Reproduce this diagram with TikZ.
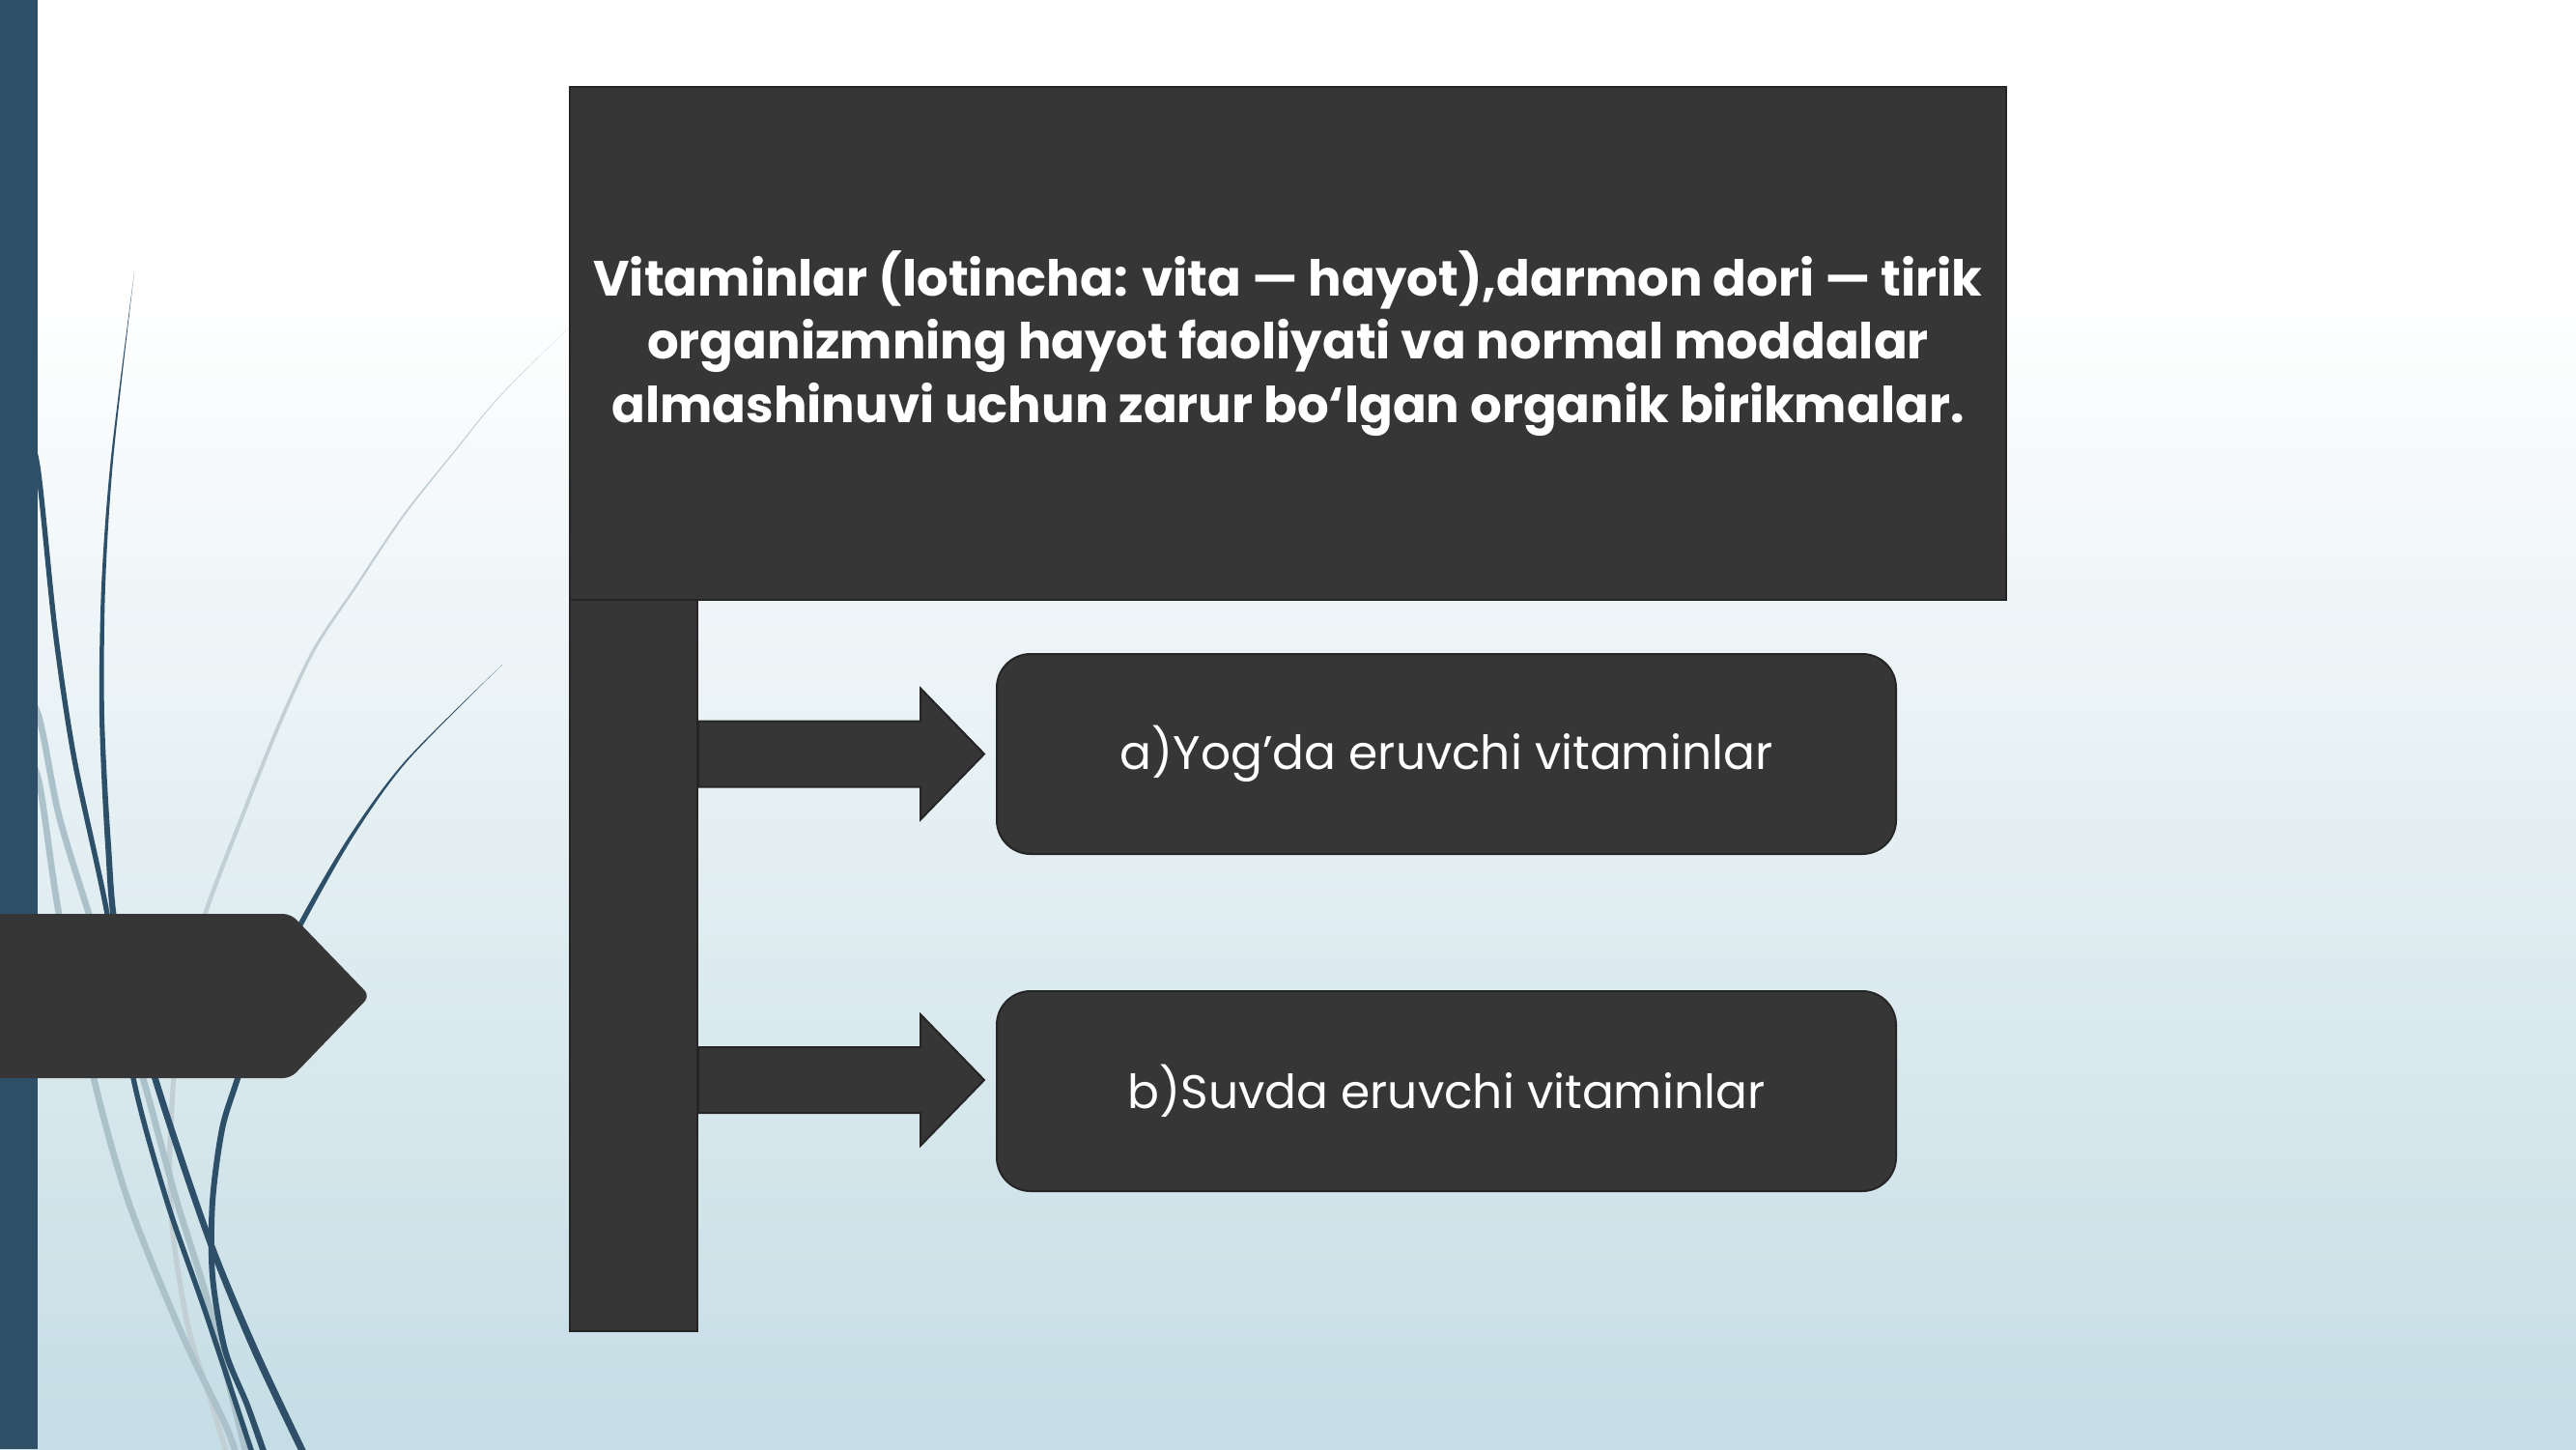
\documentclass[tikz,border=0pt]{standalone}
\usepackage{fontspec}
\setmainfont{Poppins}
\newlength{\du}
\setlength{\du}{15\unitlength}

\begin{document}
\begin{tikzpicture}[even odd rule,
  darkfill/.style={fill=boxcolor, draw=boxline, line width=0.1\du},
  titlebox/.style={darkfill, rectangle, inner sep=0pt, minimum width=74.35\du, minimum height=26.55\du,
    text=white, align=center, font=\bfseries\fontsize{38.5}{49}\selectfont},
  itembox/.style={darkfill, rectangle, rounded corners=1.75\du, inner sep=0pt, minimum width=46.55\du,
    minimum height=10.35\du, text=white, font=\fontsize{36.5}{42}\selectfont},
  bluecurve/.style={draw=curveblue, line width=#1, line cap=round},
  greycurve/.style={draw=curvegrey, line width=#1, line cap=round}]
\pgftransformxscale{1.000000}
\pgftransformyscale{-1.000000}
\definecolor{boxcolor}{rgb}{0.211765, 0.211765, 0.211765}
\definecolor{boxline}{rgb}{0.145098, 0.145098, 0.145098}
\definecolor{curveblue}{rgb}{0.180392, 0.309804, 0.407843}
\definecolor{curvegrey}{rgb}{0.674510, 0.760784, 0.792157}
\definecolor{paleline}{rgb}{0.760784, 0.815686, 0.835294}
\definecolor{bgblue}{rgb}{0.772549, 0.866667, 0.898039}
\useasboundingbox (0\du,0\du) rectangle (133.350000\du,75.000000\du);
% background
\fill[white] (0\du,0\du) rectangle (133.350000\du,15.000000\du);
\shade[top color=white, bottom color=bgblue] (0\du,14.900000\du) rectangle (133.350000\du,75.000000\du);
% curves
\fill[paleline] plot[smooth] coordinates {(29.600000\du,16.800000\du) (25.850000\du,20.500000\du) (23.500000\du,23.350000\du) (20.850000\du,26.650000\du) (18.350000\du,30.350000\du) (16.150000\du,33.650000\du) (14.350000\du,37.500000\du) (12.450000\du,42.200000\du) (10.500000\du,47.300000\du) (9.200000\du,52.000000\du) (8.850000\du,55.900000\du) (8.650000\du,60.300000\du) (8.850000\du,64.150000\du) (9.650000\du,68.900000\du) (10.850000\du,72.750000\du) (11.650000\du,75.500000\du)}
  -- plot[smooth] coordinates {(11.950000\du,75.500000\du) (11.120000\du,72.700000\du) (9.920000\du,68.850000\du) (9.120000\du,64.150000\du) (8.920000\du,60.300000\du) (9.110000\du,55.900000\du) (9.450000\du,52.000000\du) (10.740000\du,47.300000\du) (12.670000\du,42.200000\du) (14.550000\du,37.500000\du) (16.330000\du,33.650000\du) (18.500000\du,30.350000\du) (20.970000\du,26.650000\du) (23.580000\du,23.350000\du) (25.900000\du,20.500000\du) (29.600000\du,16.800000\du)} -- cycle;
\draw[greycurve=5pt] plot[smooth] coordinates {(1.000000\du,38.500000\du) (2.000000\du,40.400000\du) (3.050000\du,47.300000\du) (4.850000\du,55.800000\du) (6.650000\du,62.200000\du) (9.350000\du,68.900000\du) (11.650000\du,73.700000\du) (12.300000\du,75.500000\du)};
\draw[greycurve=5pt] plot[smooth] coordinates {(1.000000\du,35.500000\du) (2.000000\du,37.050000\du) (3.050000\du,42.200000\du) (4.600000\du,47.300000\du) (6.400000\du,53.000000\du) (7.400000\du,55.800000\du) (9.100000\du,62.000000\du) (10.800000\du,67.500000\du) (12.800000\du,75.500000\du)};
\draw[bluecurve=4pt] plot[smooth] coordinates {(1.200000\du,21.800000\du) (1.950000\du,24.150000\du) (2.850000\du,32.600000\du) (3.850000\du,39.300000\du) (5.550000\du,47.300000\du) (6.900000\du,55.800000\du) (8.650000\du,62.200000\du) (10.650000\du,67.950000\du) (13.150000\du,75.500000\du)};
\fill[curveblue] plot[smooth] coordinates {(6.950000\du,14.100000\du) (5.750000\du,23.650000\du) (5.250000\du,30.350000\du) (5.150000\du,37.050000\du) (5.450000\du,43.750000\du) (5.900000\du,48.500000\du) (7.850000\du,55.800000\du) (10.650000\du,64.150000\du) (13.000000\du,69.900000\du) (15.650000\du,75.500000\du)}
  -- plot[smooth] coordinates {(16.050000\du,75.500000\du) (13.400000\du,69.900000\du) (11.000000\du,64.150000\du) (8.200000\du,55.800000\du) (6.220000\du,48.500000\du) (5.750000\du,43.750000\du) (5.400000\du,37.050000\du) (5.450000\du,30.350000\du) (5.870000\du,23.650000\du) (6.950000\du,14.100000\du)} -- cycle;
\fill[curveblue] plot[smooth] coordinates {(26.000000\du,34.400000\du) (21.050000\du,39.300000\du) (18.200000\du,43.100000\du) (15.700000\du,47.300000\du) (13.500000\du,51.600000\du) (12.150000\du,55.800000\du) (11.350000\du,58.400000\du) (10.850000\du,62.200000\du) (10.850000\du,66.050000\du) (11.500000\du,69.900000\du) (12.650000\du,72.750000\du) (13.600000\du,75.500000\du)}
  -- plot[smooth] coordinates {(13.950000\du,75.500000\du) (12.950000\du,72.700000\du) (11.800000\du,69.850000\du) (11.150000\du,66.050000\du) (11.150000\du,62.200000\du) (11.650000\du,58.450000\du) (12.450000\du,55.850000\du) (13.800000\du,51.650000\du) (15.950000\du,47.400000\du) (18.350000\du,43.200000\du) (21.120000\du,39.350000\du) (26.000000\du,34.400000\du)} -- cycle;
% left band and pointer
\fill[curveblue] (0\du,0\du) rectangle (1.950000\du,75.000000\du);
\fill[boxcolor, rounded corners=0.400000\du] (-1.000000\du,47.300000\du) -- (15.050000\du,47.300000\du) -- (19.150000\du,51.550000\du) -- (15.050000\du,55.800000\du) -- (-1.000000\du,55.800000\du) -- cycle;
% frame
\node[darkfill, rectangle, inner sep=0pt, minimum width=6.600000\du, minimum height=37.850000\du] (bar) at (32.800000\du,49.975000\du) {};
\node[titlebox] (title) at (66.675000\du,17.775000\du) {Vitaminlar (lotincha: vita — hayot),darmon dori — tirik\\organizmning hayot faoliyati va normal moddalar\\almashinuvi uchun zarur bo‘lgan organik birikmalar.};
\node[itembox] (fat) at (74.875000\du,39.025000\du) {a)Yog’da eruvchi vitaminlar};
\node[itembox] (water) at (74.875000\du,56.475000\du) {b)Suvda eruvchi vitaminlar};
% block arrows
\filldraw[darkfill] (bar.east |- fat.west) ++(0,-1.700000\du) -- ++(11.500000\du,0) -- ++(0,-1.700000\du) -- ++(3.300000\du,3.400000\du) -- ++(-3.300000\du,3.400000\du) -- ++(0,-1.700000\du) -- ++(-11.500000\du,0) -- cycle;
\filldraw[darkfill] (bar.east |- water.west) ++(0,-2.275000\du) -- ++(11.500000\du,0) -- ++(0,-1.700000\du) -- ++(3.300000\du,3.400000\du) -- ++(-3.300000\du,3.400000\du) -- ++(0,-1.700000\du) -- ++(-11.500000\du,0) -- cycle;
\end{tikzpicture}
\end{document}
